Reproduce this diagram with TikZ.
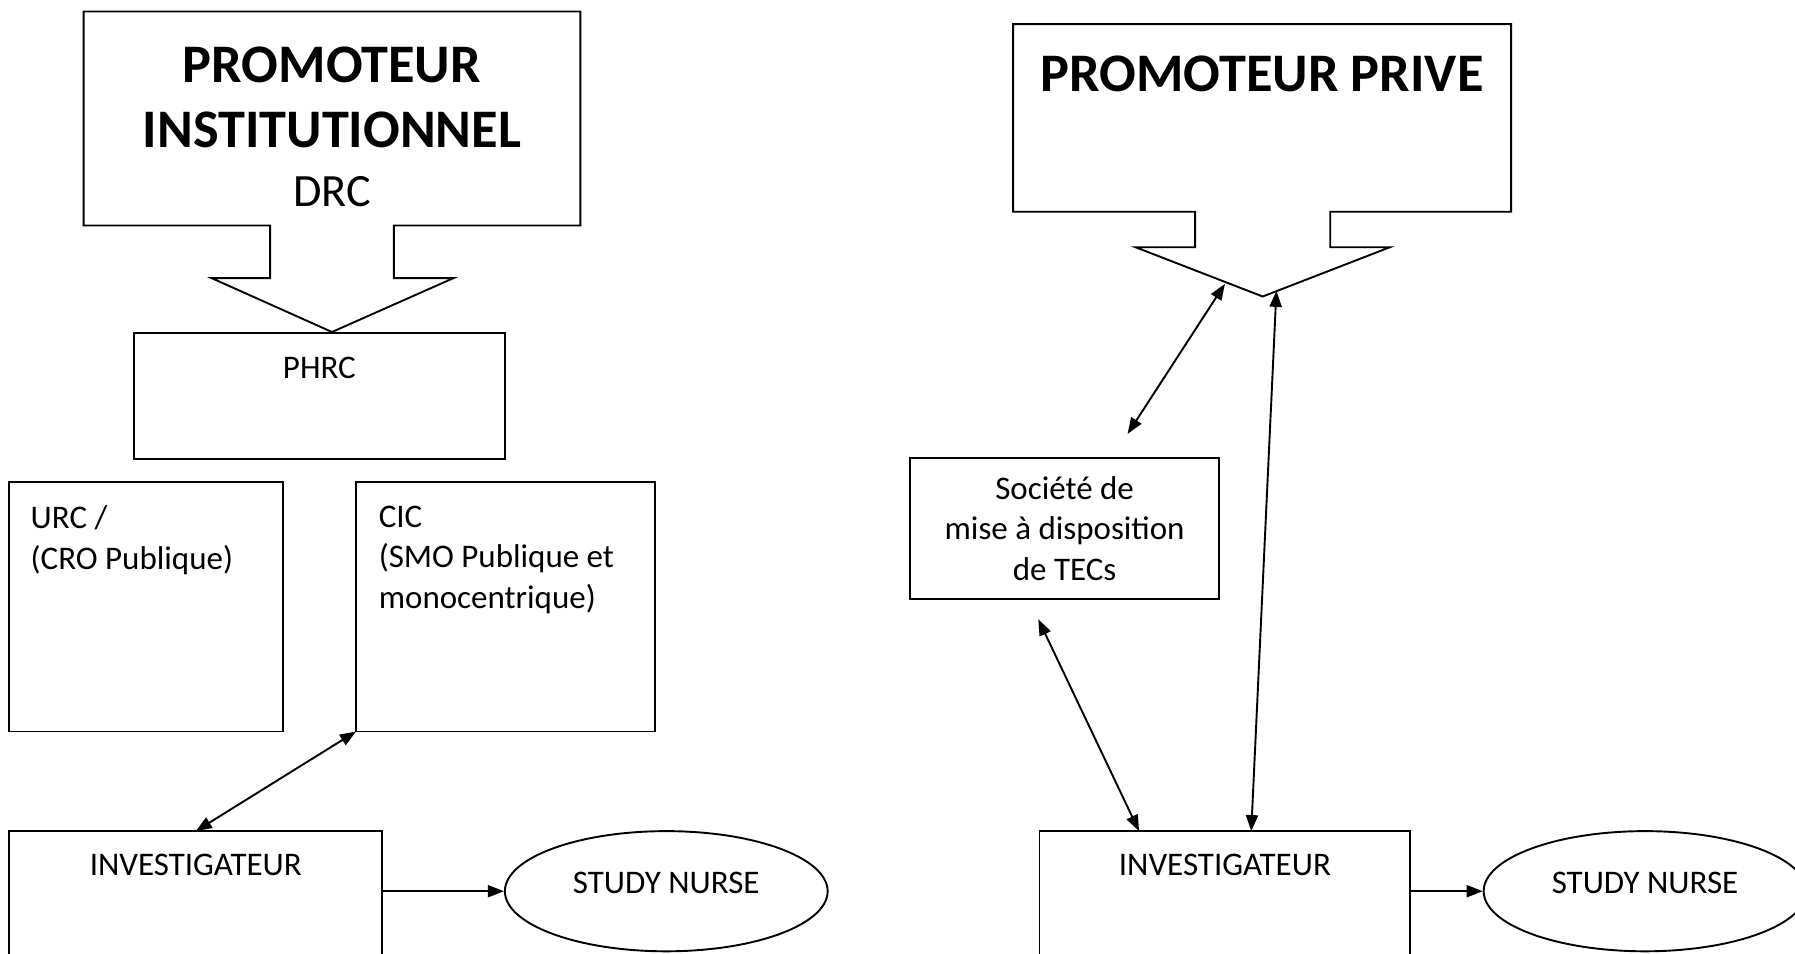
\documentclass[tikz,border=0pt]{standalone}
\usepackage{fontspec}
\setmainfont{Carlito}
\usetikzlibrary{calc, positioning, arrows.meta, shapes.geometric}

\begin{document}
\begin{tikzpicture}[
    x=0.02cm, y=-0.02cm,
    line width=0.95pt,
    font=\fontsize{16.4}{20.2}\selectfont,
    callout/.style={rectangle, inner sep=0pt, outer sep=0pt},
    org/.style={draw, rectangle, inner sep=0pt, outer sep=0pt},
    lbl/.style={inner sep=0pt},
    nurse/.style={draw, ellipse, minimum width=5.64cm, minimum height=2.1cm,
      inner sep=0pt, text depth=8pt},
    oneway/.style={-{Triangle[length=8pt, width=6pt]}},
    twoway/.style={{Triangle[length=8pt, width=6pt]}-{Triangle[length=8pt, width=6pt]}},
    node distance=0.4cm,
  ]
  \clip (0,0) rectangle (1568,833);

  % promoteur institutionnel
  \node[callout, minimum width=8.68cm, minimum height=3.74cm] (pi) at (290,103.5) {};
  \node[lbl, align=center, font=\fontsize{27}{32.4}\selectfont\bfseries] (pitxt)
    at ($(pi.center)+(0,7)$)
    {PROMOTEUR\\INSTITUTIONNEL\\[-3pt]{\mdseries\fontsize{23}{28}\selectfont DRC}};
  \coordinate (pitip) at (290,290);
  \draw (pi.south west) -- (pi.north west) -- (pi.north east) -- (pi.south east)
    -- (344,197) -- (344,243) -- (396,243) -- (pitip) -- (185,243) -- (236,243)
    -- (236,197) -- cycle;

  \node[org, minimum width=6.48cm, minimum height=2.2cm] (phrc) at (279,346) {};
  \node[lbl, below=of phrc.north] (phrctxt) {PHRC};

  \node[org, minimum width=4.78cm, minimum height=4.36cm] (urc) at (127.5,530) {};
  \node[lbl, align=left, anchor=north west] (urctxt) at ($(urc.north west)+(18,20)$)
    {URC /\\(CRO Publique)};
  \node[org, minimum width=5.22cm, minimum height=4.36cm] (cic) at (441.5,530) {};
  \node[lbl, align=left, anchor=north west] (cictxt) at ($(cic.north west)+(19,20)$)
    {CIC\\(SMO Publique et\\monocentrique)};

  \node[org, minimum width=6.52cm, minimum height=3.5cm] (invl) at (171,813.5) {};
  \node[lbl, below=0.38cm of invl.north] (invltxt) {INVESTIGATEUR};
  \node[nurse] (nursel) at (582,778.5) {STUDY NURSE};

  \draw[twoway] (cic.south west) -- (invl.north);
  \draw[oneway] (invl.east |- nursel.west) -- (nursel.west);

  % promoteur prive
  \node[callout, minimum width=8.7cm, minimum height=3.28cm] (pp) at (1102.5,103) {};
  \node[lbl, below=0.54cm of pp.north, font=\fontsize{27}{32.4}\selectfont\bfseries]
    (pptxt) {PROMOTEUR PRIVE};
  \coordinate (pptip) at (1103,259);
  \draw (pp.south west) -- (pp.north west) -- (pp.north east) -- (pp.south east)
    -- (1162,185) -- (1162,216) -- (1214,216) -- (pptip) -- (992,216) -- (1044,216)
    -- (1044,185) -- cycle;

  \node[org, minimum width=5.4cm, minimum height=2.46cm, align=center] (tec)
    at (930,461.5) {Société de\\mise à disposition\\de TECs};

  \node[org, minimum width=6.48cm, minimum height=3.5cm] (invr) at (1070,813.5) {};
  \node[lbl, below=0.38cm of invr.north] (invrtxt) {INVESTIGATEUR};
  \node[nurse] (nurser) at (1437,778.5) {STUDY NURSE};

  \coordinate (tecup) at (985,379);
  \coordinate (tecdown) at (907,541);
  \coordinate (ppleft) at (1070,248);
  \coordinate (ppright) at (1115,254);
  \draw[twoway] (tecup) -- (ppleft);
  \draw[twoway] (tecdown) -- ($(invr.north)+(-75,0)$);
  \draw[twoway] (ppright) -- ($(invr.north)+(23,0)$);
  \draw[oneway] (invr.east |- nurser.west) -- (nurser.west);
\end{tikzpicture}
\end{document}
